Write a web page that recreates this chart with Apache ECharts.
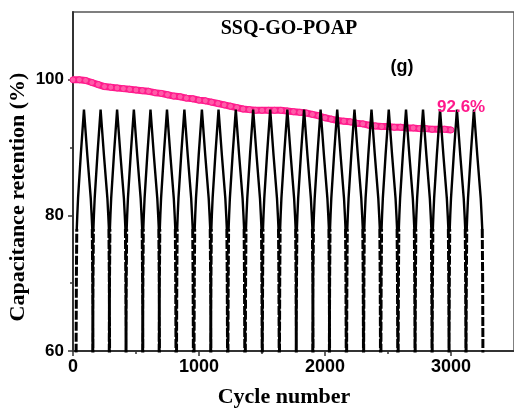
<!DOCTYPE html>
<html>
<head>
<meta charset="utf-8">
<script src="https://cdn.jsdelivr.net/npm/echarts@6/dist/echarts.min.js"></script>
<style>
  html, body { margin: 0; padding: 0; background: #fff; }
  #chart { width: 514px; height: 410px; }
</style>
</head>
<body>
<div id="chart"></div>
<script>
// retention (%) read every 50 cycles, 0..3000
var retentionStep = 50;
var retention = [
  100.0, 100.0, 99.9, 99.6, 99.3, 99.0, 98.9, 98.8, 98.7, 98.6,
  98.5, 98.4, 98.3, 98.1, 98.0, 97.8, 97.6, 97.5, 97.3, 97.2,
  97.0, 96.9, 96.7, 96.5, 96.3, 96.1, 95.9, 95.7, 95.6, 95.5,
  95.5, 95.5, 95.5, 95.5, 95.4, 95.3, 95.2, 95.1, 94.9, 94.7,
  94.4, 94.2, 94.0, 93.9, 93.8, 93.6, 93.5, 93.3, 93.2, 93.1,
  93.1, 93.0, 93.0, 92.9, 92.9, 92.8, 92.8, 92.7, 92.7, 92.7,
  92.6
];

// charge/discharge curves: start of each cycle (x units) ...
var cycleStarts = [24, 156, 287, 420, 552, 683, 821, 960, 1092, 1229, 1367, 1502,
  1638, 1771, 1902, 2034, 2171, 2306, 2443, 2580, 2715, 2850, 2984, 3119];
// ... and the shape of one cycle, offset from its start
var profileDx = [0, 1, 3, 6, 10, 16, 38, 63, 90, 117, 124, 129, 132, 134, 135];
var profileY = [50, 62, 71, 78, 80, 82.5, 89.0, 95.6, 88.8, 82.5, 80, 78, 71, 62, 50];
var steepEnd = 3;     // points 0..3 and 11..14 are the steep (dotted) parts
var steepStart = 11;

var xTicks = [0, 1000, 2000, 3000];
var yTicks = [60, 80, 100];

var pink = '#ff1a8c';
var serif = "'Liberation Serif', 'Times New Roman', serif";
var sans = "'Liberation Sans', Arial, sans-serif";

var retentionData = [];
for (var i = 0; i < retention.length; i++) {
  retentionData.push([i * retentionStep, retention[i]]);
}

var gcdUpper = [], gcdLower = [];
cycleStarts.forEach(function (s) {
  var j;
  for (j = steepEnd; j <= steepStart; j++) {
    gcdUpper.push([s + profileDx[j], profileY[j]]);
  }
  gcdUpper.push(null);
  for (j = 0; j <= steepEnd; j++) {
    gcdLower.push([s + profileDx[j], profileY[j]]);
  }
  gcdLower.push(null);
  for (j = steepStart; j < profileDx.length; j++) {
    gcdLower.push([s + profileDx[j], profileY[j]]);
  }
  gcdLower.push(null);
});

var chart = echarts.init(document.getElementById('chart'));

var tickStyle = { color: '#333', width: 1.5 };

var option = {
  backgroundColor: '#fff',
  animation: false,
  grid: {
    left: 73,
    top: 12,
    right: -1,
    bottom: 59,
    show: true,
    borderColor: '#555',
    borderWidth: 1.5
  },
  xAxis: {
    type: 'value',
    min: 0,
    max: 3500,
    interval: 1000,
    splitLine: { show: false },
    axisLine: { lineStyle: { color: '#333', width: 2 } },
    axisTick: { inside: false, length: 5, lineStyle: tickStyle, customValues: xTicks },
    minorTick: { show: true, splitNumber: 2, length: 3, lineStyle: tickStyle },
    axisLabel: {
      customValues: xTicks,
      formatter: function (v) { return String(v); },
      margin: 7,
      color: '#000',
      fontFamily: sans,
      fontWeight: 'bold',
      fontSize: 18
    }
  },
  yAxis: {
    type: 'value',
    min: 60,
    max: 110,
    interval: 20,
    splitLine: { show: false },
    axisLine: { lineStyle: { color: '#333', width: 2 } },
    axisTick: { inside: false, length: 5, lineStyle: tickStyle, customValues: yTicks },
    minorTick: { show: true, splitNumber: 2, length: 3, lineStyle: tickStyle },
    axisLabel: {
      customValues: yTicks,
      formatter: function (v) { return String(v); },
      margin: 9,
      color: '#000',
      fontFamily: sans,
      fontWeight: 'bold',
      fontSize: 17
    }
  },
  graphic: [
    {
      type: 'text', x: 289, y: 29, z: 100,
      style: { text: 'SSQ-GO-POAP', fill: '#000', font: 'bold 20px ' + serif, align: 'center', verticalAlign: 'middle' }
    },
    {
      type: 'text', x: 402, y: 67, z: 100,
      style: { text: '(g)', fill: '#000', font: 'bold 18px ' + sans, align: 'center', verticalAlign: 'middle' }
    },
    {
      type: 'text', x: 437, y: 107, z: 100,
      style: { text: '92.6%', fill: pink, font: 'bold 17px ' + sans, align: 'left', verticalAlign: 'middle' }
    },
    {
      type: 'text', x: 18, y: 197, rotation: Math.PI / 2, z: 100,
      style: { text: 'Capacitance retention (%)', fill: '#000', font: 'bold 22px ' + serif, align: 'center', verticalAlign: 'middle' }
    },
    {
      type: 'text', x: 284, y: 397, z: 100,
      style: { text: 'Cycle number', fill: '#000', font: 'bold 22px ' + serif, align: 'center', verticalAlign: 'middle' }
    }
  ],
  series: [
    {
      name: 'Retention',
      type: 'line',
      data: retentionData,
      z: 2,
      symbol: 'circle',
      symbolSize: 6,
      showAllSymbol: true,
      itemStyle: { color: '#ff5aa8', borderColor: pink, borderWidth: 1 },
      lineStyle: { color: pink, width: 7 }
    },
    {
      name: 'GCD',
      type: 'line',
      data: gcdUpper,
      z: 3,
      symbol: 'none',
      lineStyle: { color: '#000', width: 2.4 }
    },
    {
      name: 'GCD steep',
      type: 'line',
      data: gcdLower,
      z: 3,
      symbol: 'none',
      lineStyle: { color: '#000', width: 3, type: [9, 2] }
    }
  ]
};

chart.setOption(option);
</script>
</body>
</html>
